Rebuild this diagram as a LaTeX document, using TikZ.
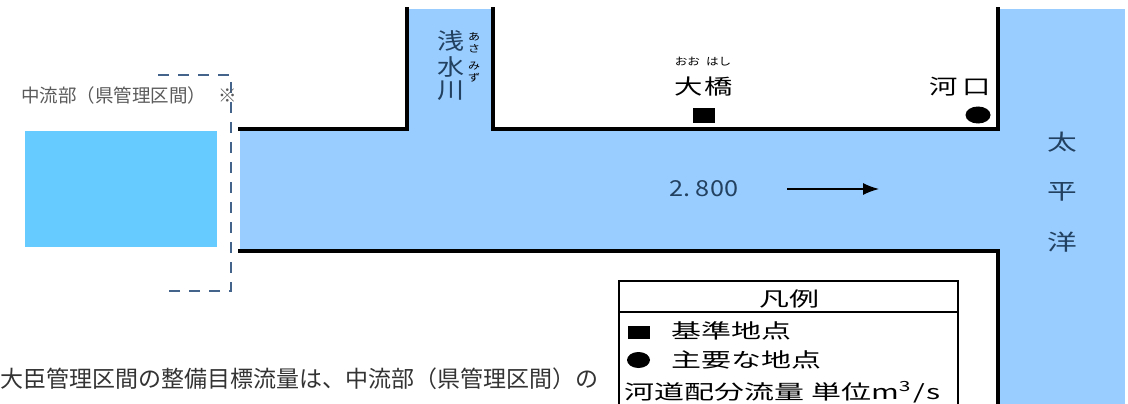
\documentclass[tikz,border=0pt]{standalone}
\usepackage{fontspec}
\newfontfamily\jp{Noto Sans CJK JP}
\newfontfamily\jpM[FakeStretch=1.35]{Noto Sans CJK JP}
\newfontfamily\jpT[FakeStretch=1.2]{Noto Sans CJK JP}
\newfontfamily\jpA[FakeStretch=1.35]{Noto Sans CJK JP}
\newfontfamily\jpL[FakeStretch=1.5]{Noto Sans CJK JP}
\newfontfamily\jpN[FakeStretch=1.15]{Noto Sans CJK JP}
\newfontfamily\jpR[FakeStretch=1.2]{Noto Sans CJK JP}
\usetikzlibrary{arrows.meta}
\definecolor{river}{HTML}{99CCFF}
\definecolor{boxblue}{HTML}{66CCFF}
\definecolor{labelc}{HTML}{22405F}
\definecolor{grayt}{HTML}{5A5A5A}
\definecolor{dashc}{HTML}{44648C}
\tikzset{
  bank/.style={line width=3.2pt,black,line cap=rect},
  lbl/.style={font=\jpM\fontsize{22}{22}\selectfont,inner sep=0pt,text=labelc},
  trib/.style={font=\jpT\fontsize{22.5}{22.5}\selectfont,inner sep=0pt,text=labelc},
  ruby/.style={font=\jpR\fontsize{10}{10}\selectfont,inner sep=0pt,text=black},
  blk/.style={font=\jpA\fontsize{21}{21}\selectfont,inner sep=0pt,text=black},
  legtxt/.style={font=\jpL\fontsize{20}{20}\selectfont,inner sep=0pt,text=black,anchor=west},
}
\begin{document}
\begin{tikzpicture}[x=1pt,y=-1pt]
\useasboundingbox (0,0) rectangle (1128,404);
\clip (0,0) rectangle (1128,404);
% water
\fill[river] (240,129) rectangle (998,251);
\fill[river] (407,9) rectangle (493,130);
\fill[river] (998,9) rectangle (1125,404);
\fill[boxblue] (25,131) rectangle (217,247);
% banks
\draw[bank] (240,129) -- (407,129) -- (407,9);
\draw[bank] (493,9) -- (493,129) -- (998,129) -- (998,9);
\draw[bank] (240,251) -- (998,251) -- (998,404);
% dashed boundary
\draw[dashc,line width=2pt,dash pattern=on 11pt off 9pt] (158,75) -- (231,75) -- (231,291) -- (160,291);
% labels
\node[font=\jp\fontsize{18.5}{18.5}\selectfont,text=grayt,anchor=west,inner sep=0pt] (chuu) at (21,95) {中流部（県管理区間）\hspace{12pt}※};
\node[trib] (asa1) at (451,41) {浅};
\node[trib] (asa2) at (451,67) {水};
\node[trib] (asa3) at (451,91) {川};
\node[ruby] (ra1) at (474,37) {あ};
\node[ruby] (ra2) at (474,49) {さ};
\node[ruby] (ra3) at (474,66) {み};
\node[ruby] (ra4) at (474,78) {ず};
\node[blk] (ohashi) at (704,87) {大\hspace{2pt}橋};
\node[ruby,font=\jpR\fontsize{10.5}{10.5}\selectfont] (rohashi) at (703,62) {おお\hspace{6pt}はし};
\fill[black] (693,108) rectangle (715,123);
\node[blk] (kakou) at (960,87) {河\hspace{5pt}口};
\fill[black] (978,115) ellipse (12.5 and 8.5);
\node[lbl,font=\jpN\fontsize{22}{22}\selectfont] (flow) at (704,189) {2.\hspace{5pt}800};
\coordinate (af) at (787,189);
\coordinate (at) at (879,189);
\draw[black,line width=1.4pt,-{Latex[length=16pt,width=12pt]}] (af) -- (at);
\node[lbl] (p1) at (1062,142) {太};
\node[lbl] (p2) at (1062,192) {平};
\node[lbl] (p3) at (1062,242) {洋};
% legend
\draw[black,line width=1.6pt,fill=white] (619,281) rectangle (958,420);
\draw[black,line width=1.2pt] (619,312) -- (958,312);
\node[legtxt,anchor=center] (hanrei) at (789,299) {凡例};
\fill[black] (628,326) rectangle (650,339);
\node[legtxt] (kijun) at (671,331) {基準地点};
\fill[black] (638.5,360) ellipse (11.5 and 8);
\node[legtxt] (shuyo) at (671,360) {主要な地点};
\node[legtxt] (tani) at (624,392) {河道配分流量\hspace{7pt}単位m\textsuperscript{3}\hspace{2pt}/\hspace{2pt}s};
% bottom text
\node[font=\jp\fontsize{23}{23}\selectfont,text=black!80,anchor=west,inner sep=0pt] (para) at (0,379) {大臣管理区間の整備目標流量は、中流部（県管理区間）の};
\end{tikzpicture}
\end{document}
